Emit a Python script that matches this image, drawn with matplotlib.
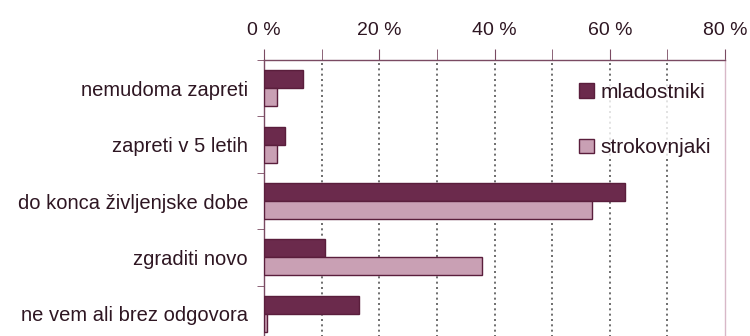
import numpy as np
import matplotlib
matplotlib.use("Agg")
import matplotlib.pyplot as plt
from matplotlib.ticker import MultipleLocator, FuncFormatter
from matplotlib.patches import Patch

plt.rcParams['font.family'] = ['Liberation Sans', 'DejaVu Sans']

# -------------------- Data --------------------
categories = ['nemudoma zapreti', 'zapreti v 5 letih', 'do konca življenjske dobe',
              'zgraditi novo', 'ne vem ali brez odgovora']
mladostniki = [6.8, 3.6, 62.6, 10.6, 16.5]
strokovnjaki = [2.2, 2.2, 56.9, 37.8, 0.5]
series_names = ['mladostniki', 'strokovnjaki']

# -------------------- Style --------------------
DARK = '#6b2a4c'
LIGHT = '#c9a0b4'
EDGE = '#5a1e3c'
TEXT = '#2e1622'
SPINE = '#7a4a62'
FS = 14

fig = plt.figure(figsize=(7.5, 3.36), dpi=100)
ax = fig.add_axes([0.352, -0.018, 0.6147, 0.8393])

y = np.arange(len(categories))
h = 0.32
ax.barh(y - h / 2, mladostniki, height=h, color=DARK, edgecolor=EDGE, linewidth=1, zorder=3)
ax.barh(y + h / 2, strokovnjaki, height=h, color=LIGHT, edgecolor=EDGE, linewidth=1, zorder=3)

ax.set_xlim(0, 80)
ax.set_ylim(len(categories) - 0.5, -0.5)

# percent axis on top
ax.xaxis.tick_top()
ax.xaxis.set_major_locator(MultipleLocator(20))
ax.xaxis.set_minor_locator(MultipleLocator(10))
ax.xaxis.set_major_formatter(FuncFormatter(lambda v, _: f'{v:.0f} %'))
ax.tick_params(axis='x', which='both', direction='out', length=8, color=SPINE,
               labelsize=FS, labelcolor=TEXT, pad=7)

# category labels, boundary ticks on the left spine
ax.set_yticks(y)
ax.set_yticklabels(categories)
ax.set_yticks(np.arange(len(categories) + 1) - 0.5, minor=True)
ax.tick_params(axis='y', which='major', length=0, labelsize=FS + 0.5, labelcolor=TEXT, pad=11.5)
ax.tick_params(axis='y', which='minor', length=5, color=SPINE)

for v in range(10, 80, 10):
    ax.axvline(v, color='#555555', linestyle=(0, (1.2, 2.0)), linewidth=1.2, zorder=1)

for side in ['top', 'left', 'right']:
    ax.spines[side].set_color(SPINE)
    ax.spines[side].set_linewidth(1)
ax.spines['right'].set_color('#d8b8c8')
ax.spines['bottom'].set_visible(False)

handles = [Patch(facecolor=DARK, edgecolor=EDGE, label=series_names[0]),
           Patch(facecolor=LIGHT, edgecolor=EDGE, label=series_names[1])]
leg = fig.legend(handles=handles, loc='upper left', bbox_to_anchor=(579 / 750, 1 - 83 / 336),
                 frameon=True, fontsize=FS + 1, handlelength=0.7, handleheight=0.7,
                 handletextpad=0.35, labelspacing=1.75, borderpad=0.0, borderaxespad=0)
leg.get_frame().set_facecolor('white')
leg.get_frame().set_edgecolor('none')
for t in leg.get_texts():
    t.set_color(TEXT)

fig.savefig('out.png', dpi=100, facecolor='white')
